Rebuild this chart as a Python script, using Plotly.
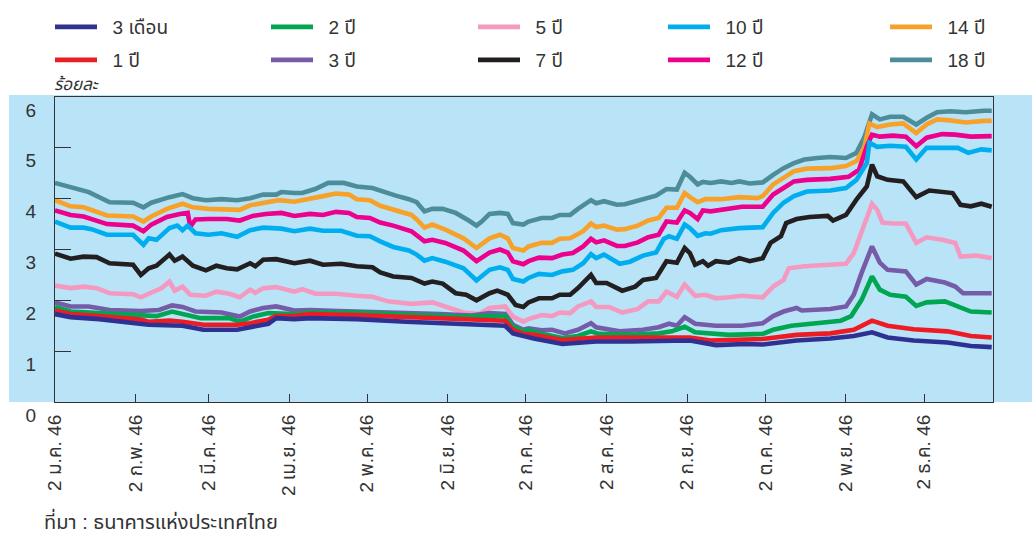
import datetime as dt
import plotly.graph_objects as go

BASE = dt.date(2003, 1, 2)

# day offsets from 2 Jan 2003 and yields (% per annum)
days_3m = [0, 6, 17, 33, 36, 49, 57, 70, 76, 82, 85, 92, 98, 116, 135, 154, 167, 173, 176, 180, 184, 195, 208, 221, 233, 244, 254, 265, 272, 285, 298, 307, 314, 320, 330, 343, 352, 360]
vals_3m = [1.73, 1.67, 1.63, 1.55, 1.52, 1.50, 1.42, 1.42, 1.48, 1.54, 1.65, 1.63, 1.65, 1.63, 1.58, 1.54, 1.52, 1.50, 1.35, 1.29, 1.25, 1.14, 1.19, 1.19, 1.21, 1.21, 1.12, 1.14, 1.13, 1.21, 1.25, 1.30, 1.37, 1.27, 1.21, 1.17, 1.10, 1.08]

days_1y = [0, 6, 17, 33, 36, 44, 49, 57, 70, 75, 82, 85, 92, 98, 116, 135, 154, 167, 173, 176, 180, 184, 195, 208, 221, 233, 244, 252, 265, 272, 285, 298, 307, 314, 320, 330, 343, 352, 360]
vals_1y = [1.80, 1.73, 1.69, 1.62, 1.58, 1.60, 1.58, 1.52, 1.52, 1.55, 1.62, 1.69, 1.69, 1.73, 1.71, 1.68, 1.63, 1.62, 1.60, 1.42, 1.34, 1.32, 1.22, 1.27, 1.27, 1.27, 1.27, 1.21, 1.22, 1.24, 1.32, 1.35, 1.42, 1.60, 1.50, 1.43, 1.39, 1.30, 1.27]

days_2y = [0, 6, 17, 30, 39, 45, 49, 56, 67, 71, 76, 82, 92, 98, 116, 135, 154, 167, 173, 176, 180, 182, 187, 195, 201, 206, 209, 221, 232, 237, 242, 246, 259, 272, 276, 283, 292, 302, 306, 310, 314, 317, 321, 327, 331, 335, 342, 347, 352, 360]
vals_2y = [1.87, 1.78, 1.75, 1.71, 1.69, 1.78, 1.73, 1.65, 1.65, 1.58, 1.68, 1.75, 1.73, 1.76, 1.76, 1.71, 1.68, 1.69, 1.69, 1.48, 1.39, 1.42, 1.34, 1.26, 1.30, 1.39, 1.34, 1.32, 1.35, 1.39, 1.48, 1.37, 1.32, 1.34, 1.42, 1.50, 1.55, 1.60, 1.69, 2.01, 2.47, 2.21, 2.11, 2.07, 1.89, 1.96, 1.98, 1.89, 1.78, 1.76]

days_3y = [0, 6, 13, 21, 33, 40, 45, 49, 54, 64, 71, 75, 80, 85, 92, 98, 109, 122, 135, 148, 160, 167, 173, 176, 180, 182, 187, 191, 196, 201, 206, 208, 217, 226, 232, 236, 239, 242, 246, 254, 264, 272, 276, 280, 285, 287, 298, 304, 307, 310, 314, 317, 320, 327, 331, 335, 342, 346, 349, 360]
vals_3y = [1.96, 1.88, 1.88, 1.81, 1.79, 1.81, 1.90, 1.87, 1.78, 1.76, 1.68, 1.78, 1.85, 1.88, 1.80, 1.81, 1.79, 1.78, 1.75, 1.73, 1.70, 1.75, 1.73, 1.52, 1.42, 1.45, 1.41, 1.42, 1.35, 1.42, 1.55, 1.47, 1.39, 1.42, 1.47, 1.54, 1.50, 1.67, 1.54, 1.50, 1.50, 1.55, 1.69, 1.78, 1.85, 1.80, 1.83, 1.88, 2.11, 2.54, 3.06, 2.74, 2.60, 2.57, 2.31, 2.42, 2.35, 2.27, 2.14, 2.14]

days_5y = [0, 6, 11, 16, 21, 30, 33, 37, 41, 44, 46, 49, 52, 58, 62, 67, 71, 75, 77, 80, 85, 92, 95, 100, 108, 116, 122, 128, 137, 145, 150, 157, 163, 167, 173, 176, 180, 182, 187, 191, 194, 198, 201, 206, 208, 213, 218, 224, 228, 232, 235, 239, 242, 246, 250, 254, 259, 264, 272, 276, 280, 282, 288, 298, 304, 307, 311, 314, 316, 318, 322, 327, 331, 335, 341, 346, 348, 354, 360]
vals_5y = [2.29, 2.24, 2.27, 2.24, 2.14, 2.12, 2.06, 2.15, 2.24, 2.37, 2.19, 2.27, 2.11, 2.09, 2.17, 2.13, 2.06, 2.21, 2.15, 2.24, 2.26, 2.17, 2.22, 2.13, 2.13, 2.09, 2.07, 1.98, 1.93, 1.96, 1.88, 1.76, 1.73, 1.85, 1.88, 1.68, 1.58, 1.63, 1.71, 1.69, 1.76, 1.75, 1.88, 1.98, 1.87, 1.87, 1.76, 1.83, 1.98, 1.98, 2.17, 2.07, 2.31, 2.09, 2.11, 2.04, 2.06, 2.09, 2.06, 2.27, 2.40, 2.63, 2.67, 2.69, 2.72, 2.93, 3.45, 3.90, 3.78, 3.53, 3.51, 3.51, 3.13, 3.24, 3.19, 3.13, 2.86, 2.88, 2.83]

days_7y = [0, 6, 11, 16, 21, 30, 33, 36, 39, 44, 46, 49, 53, 58, 62, 66, 70, 75, 77, 80, 85, 92, 98, 103, 110, 116, 122, 125, 130, 137, 142, 145, 149, 154, 158, 162, 167, 170, 174, 177, 180, 182, 186, 191, 194, 198, 201, 206, 208, 212, 218, 223, 226, 231, 235, 239, 242, 244, 246, 249, 251, 254, 259, 263, 267, 272, 275, 279, 281, 285, 290, 297, 299, 304, 308, 312, 314, 316, 320, 326, 331, 336, 345, 348, 352, 356, 360]
vals_7y = [2.92, 2.82, 2.86, 2.85, 2.73, 2.70, 2.50, 2.63, 2.68, 2.90, 2.78, 2.86, 2.68, 2.59, 2.68, 2.63, 2.61, 2.73, 2.67, 2.80, 2.81, 2.73, 2.78, 2.70, 2.72, 2.67, 2.65, 2.55, 2.47, 2.44, 2.33, 2.37, 2.33, 2.14, 2.11, 2.00, 2.14, 2.19, 2.11, 1.91, 1.87, 1.96, 2.04, 2.04, 2.11, 2.11, 2.24, 2.50, 2.34, 2.34, 2.19, 2.27, 2.40, 2.44, 2.77, 2.74, 3.03, 2.93, 2.70, 2.77, 2.68, 2.77, 2.74, 2.83, 2.77, 2.83, 3.13, 3.26, 3.52, 3.60, 3.64, 3.66, 3.57, 3.68, 3.98, 4.24, 4.67, 4.44, 4.37, 4.34, 4.03, 4.16, 4.11, 3.88, 3.85, 3.90, 3.84]

days_10y = [0, 6, 11, 14, 20, 30, 34, 36, 39, 44, 47, 49, 51, 54, 59, 64, 70, 75, 80, 87, 92, 98, 103, 110, 116, 121, 125, 130, 136, 139, 142, 145, 150, 157, 162, 167, 171, 174, 176, 180, 182, 186, 191, 195, 199, 203, 206, 208, 211, 217, 221, 226, 231, 234, 236, 239, 242, 244, 247, 250, 252, 256, 263, 272, 276, 280, 284, 289, 298, 304, 308, 312, 313, 316, 321, 327, 331, 335, 341, 347, 351, 356, 360]
vals_10y = [3.55, 3.43, 3.43, 3.40, 3.29, 3.29, 3.09, 3.22, 3.19, 3.42, 3.47, 3.38, 3.47, 3.32, 3.29, 3.32, 3.25, 3.38, 3.43, 3.41, 3.36, 3.41, 3.37, 3.37, 3.27, 3.26, 3.16, 3.05, 2.98, 2.90, 2.78, 2.83, 2.76, 2.63, 2.39, 2.60, 2.65, 2.60, 2.42, 2.37, 2.44, 2.52, 2.50, 2.57, 2.60, 2.73, 2.91, 2.83, 2.90, 2.72, 2.76, 2.88, 2.94, 3.21, 3.26, 3.21, 3.49, 3.42, 3.27, 3.32, 3.31, 3.38, 3.42, 3.44, 3.72, 3.92, 4.05, 4.14, 4.16, 4.21, 4.37, 4.70, 5.10, 5.02, 5.04, 5.02, 4.77, 5.00, 5.00, 5.00, 4.90, 4.97, 4.95]

days_12y = [0, 6, 11, 20, 30, 34, 37, 43, 48, 51, 52, 54, 59, 66, 71, 76, 81, 87, 92, 98, 103, 108, 113, 116, 121, 125, 130, 137, 142, 145, 150, 157, 162, 167, 171, 174, 176, 180, 182, 186, 191, 195, 199, 203, 206, 208, 211, 216, 219, 224, 228, 232, 235, 239, 242, 244, 247, 249, 252, 259, 264, 272, 276, 280, 284, 289, 298, 305, 309, 312, 314, 317, 322, 327, 331, 335, 341, 346, 352, 360]
vals_12y = [3.77, 3.68, 3.65, 3.50, 3.47, 3.36, 3.49, 3.64, 3.70, 3.72, 3.45, 3.59, 3.60, 3.60, 3.57, 3.66, 3.70, 3.72, 3.66, 3.70, 3.68, 3.74, 3.72, 3.64, 3.62, 3.53, 3.47, 3.36, 3.16, 3.19, 3.13, 2.98, 2.77, 2.94, 3.00, 2.94, 2.77, 2.71, 2.77, 2.84, 2.83, 2.90, 2.93, 3.06, 3.21, 3.14, 3.18, 3.07, 3.07, 3.14, 3.24, 3.29, 3.55, 3.53, 3.77, 3.72, 3.60, 3.77, 3.75, 3.80, 3.84, 3.84, 4.08, 4.21, 4.34, 4.37, 4.39, 4.43, 4.57, 5.03, 5.26, 5.22, 5.24, 5.22, 5.03, 5.20, 5.27, 5.26, 5.22, 5.23]

days_14y = [0, 6, 11, 14, 20, 30, 34, 37, 43, 49, 53, 59, 66, 71, 75, 80, 86, 92, 98, 103, 108, 113, 116, 121, 125, 130, 137, 139, 142, 145, 150, 157, 162, 167, 171, 174, 176, 180, 182, 187, 191, 194, 198, 203, 206, 208, 211, 216, 219, 224, 228, 232, 235, 239, 242, 244, 247, 250, 256, 263, 270, 272, 276, 280, 284, 289, 298, 304, 308, 311, 313, 316, 321, 326, 331, 335, 339, 344, 350, 357, 360]
vals_14y = [3.97, 3.85, 3.83, 3.78, 3.67, 3.65, 3.55, 3.65, 3.80, 3.90, 3.83, 3.80, 3.80, 3.78, 3.87, 3.91, 3.97, 3.94, 3.99, 4.05, 4.10, 4.08, 3.99, 3.97, 3.86, 3.78, 3.68, 3.59, 3.43, 3.49, 3.39, 3.22, 3.03, 3.22, 3.29, 3.22, 3.03, 2.98, 3.06, 3.13, 3.13, 3.21, 3.22, 3.36, 3.51, 3.44, 3.47, 3.39, 3.40, 3.47, 3.57, 3.62, 3.82, 3.82, 4.11, 4.03, 3.93, 3.99, 3.99, 4.03, 4.01, 4.05, 4.28, 4.41, 4.54, 4.59, 4.60, 4.64, 4.74, 5.00, 5.48, 5.41, 5.46, 5.48, 5.29, 5.46, 5.56, 5.54, 5.50, 5.53, 5.53]

days_18y = [0, 6, 11, 13, 21, 30, 34, 37, 44, 49, 53, 58, 64, 70, 75, 80, 85, 87, 92, 95, 100, 105, 111, 116, 122, 126, 131, 136, 139, 142, 145, 149, 154, 159, 162, 164, 167, 171, 174, 176, 180, 182, 187, 191, 194, 198, 201, 206, 208, 211, 216, 219, 223, 227, 231, 235, 239, 242, 244, 247, 249, 252, 256, 260, 263, 267, 272, 276, 280, 284, 288, 293, 298, 304, 308, 311, 314, 317, 321, 326, 331, 335, 339, 344, 350, 357, 360]
vals_18y = [4.31, 4.23, 4.16, 4.13, 3.93, 3.92, 3.83, 3.92, 4.03, 4.09, 4.01, 3.97, 3.99, 3.97, 4.01, 4.08, 4.08, 4.13, 4.11, 4.11, 4.19, 4.31, 4.31, 4.24, 4.21, 4.14, 4.06, 3.99, 3.93, 3.75, 3.80, 3.80, 3.72, 3.57, 3.47, 3.55, 3.70, 3.72, 3.70, 3.52, 3.49, 3.55, 3.62, 3.62, 3.68, 3.68, 3.80, 3.97, 3.91, 3.95, 3.88, 3.89, 3.95, 4.01, 4.06, 4.19, 4.18, 4.51, 4.43, 4.28, 4.33, 4.31, 4.34, 4.31, 4.34, 4.30, 4.32, 4.47, 4.60, 4.70, 4.77, 4.80, 4.82, 4.80, 4.90, 5.20, 5.66, 5.56, 5.61, 5.61, 5.46, 5.59, 5.70, 5.72, 5.70, 5.73, 5.73]

series_names = ["3 เดือน", "2 ปี", "5 ปี", "10 ปี", "14 ปี", "1 ปี", "3 ปี", "7 ปี", "12 ปี", "18 ปี"]
series_days = [days_3m, days_2y, days_5y, days_10y, days_14y, days_1y, days_3y, days_7y, days_12y, days_18y]
series_vals = [vals_3m, vals_2y, vals_5y, vals_10y, vals_14y, vals_1y, vals_3y, vals_7y, vals_12y, vals_18y]
series_colors = ["#2E3192", "#00A651", "#F49AC1", "#00AEEF", "#F7A12A", "#ED1C24", "#765CA8", "#231F20", "#EC008C", "#4D8C99"]

tick_dates = ["2003-%02d-02" % m for m in range(1, 13)]
tick_text = ["2 ม.ค. 46", "2 ก.พ. 46", "2 มี.ค. 46", "2 เม.ย. 46", "2 พ.ค. 46", "2 มิ.ย. 46",
             "2 ก.ค. 46", "2 ส.ค. 46", "2 ก.ย. 46", "2 ต.ค. 46", "2 พ.ย. 46", "2 ธ.ค. 46"]
y_ticks = [0, 1, 2, 3, 4, 5, 6]

FONT = "Arial, 'Liberation Sans', 'Noto Sans Thai', Loma, Garuda, sans-serif"
BLUE = "#B9E4F7"
AXIS = "#333333"
TXT = "#333333"

W, H = 1032, 536

# plot frame in screen pixels: x 55..993, y 97..402
L, R, T, B = 55, W - 993, 97, H - 402
pw, ph = W - L - R, H - T - B


def px_x(x):
    return (x - L) / pw


def px_y(y):
    return (H - B - y) / ph


# legend layout: 5 columns x 2 rows (left pixel of each entry, row centre pixel)
leg_left = [50, 266, 473, 663, 885]
leg_row_y = [27, 60]

fig = go.Figure()
draw_order = [9, 4, 8, 3, 7, 2, 6, 1, 5, 0]
for i in draw_order:
    dates = [BASE + dt.timedelta(days=d) for d in series_days[i]]
    lname = "legend" if i == 0 else "legend%d" % (i + 1)
    fig.add_trace(go.Scatter(
        x=dates, y=series_vals[i], mode="lines",
        name="\u00a0\u00a0" + series_names[i],
        line=dict(color=series_colors[i], width=4.6),
        legend=lname,
    ))

layout_legends = {}
for i in range(10):
    lname = "legend" if i == 0 else "legend%d" % (i + 1)
    col, row = i % 5, i // 5
    layout_legends[lname] = dict(
        orientation="v", xref="container", yref="container",
        x=leg_left[col] / W, y=1 - leg_row_y[row] / H,
        xanchor="left", yanchor="middle", bgcolor="rgba(0,0,0,0)",
        itemwidth=42, borderwidth=0,
        font=dict(family=FONT, size=19, color=TXT),
    )

fig.update_layout(
    width=W, height=H,
    margin=dict(l=L, r=R, t=T, b=B, pad=0, autoexpand=False),
    paper_bgcolor="white", plot_bgcolor=BLUE,
    font=dict(family=FONT, size=16, color=TXT),
    showlegend=True,
    **layout_legends,
    xaxis=dict(
        type="date", range=["2003-01-02", "2003-12-28 12:00"],
        tickmode="array", tickvals=tick_dates, ticktext=tick_text,
        tickangle=-90, ticks="inside", ticklen=8, tickcolor=AXIS, tickwidth=1.3,
        showline=True, linecolor=AXIS, linewidth=1.3, mirror=True,
        showgrid=False, zeroline=False, ticklabelstandoff=4, automargin=False,
        tickfont=dict(family=FONT, size=19, color=TXT),
    ),
    yaxis=dict(
        range=[0, 6], tickmode="array", tickvals=y_ticks,
        ticks="inside", ticklen=16, tickcolor=AXIS, tickwidth=1.3,
        showline=True, linecolor=AXIS, linewidth=1.3, mirror=True,
        showgrid=False, zeroline=False, ticklabelstandoff=14, ticklabelshift=13,
        automargin=False,
        tickfont=dict(family=FONT, size=19, color=TXT),
    ),
    shapes=[dict(type="rect", xref="paper", yref="paper", layer="below",
                 x0=px_x(9), x1=px_x(W + 2), y0=0, y1=px_y(95),
                 fillcolor=BLUE, line=dict(width=0))],
    annotations=[
        dict(text="<i>ร้อยละ</i>", xref="paper", yref="paper",
             x=px_x(52), y=px_y(84), xanchor="left", yanchor="middle", showarrow=False,
             font=dict(family=FONT, size=17, color=TXT)),
        dict(text="ที่มา : ธนาคารแห่งประเทศไทย", xref="paper", yref="paper",
             x=px_x(42), y=px_y(520), xanchor="left", yanchor="middle",
             showarrow=False, font=dict(family=FONT, size=20, color=TXT)),
    ],
)

fig.write_html(
    "out.html",
    config={"displayModeBar": False},
    post_script="document.body.style.margin='0';document.body.style.overflow='hidden';",
)
